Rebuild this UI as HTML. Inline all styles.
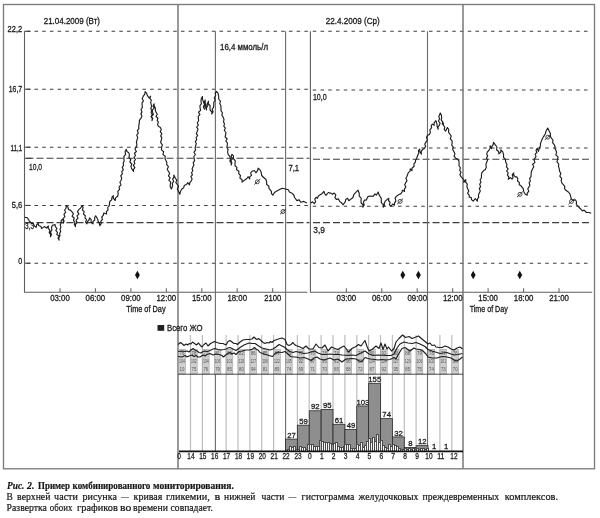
<!DOCTYPE html>
<html><head><meta charset="utf-8">
<style>
html,body{margin:0;padding:0;background:#fff;width:600px;height:518px;overflow:hidden;}
svg{position:absolute;left:0;top:0;will-change:transform;}
svg text{font-family:"Liberation Sans", sans-serif;}
.cap{position:absolute;will-change:transform;left:8px;font-family:"Liberation Serif", serif;font-size:10.2px;color:#1a1a1a;white-space:nowrap;line-height:11px;}
.j{width:550px;text-align:justify;text-align-last:justify;white-space:normal;}
</style></head><body>
<svg width="600" height="518" viewBox="0 0 600 518">
<rect x="3.5" y="4.5" width="591" height="464.3" fill="none" stroke="#7c7c7c" stroke-width="1.35"/>
<line x1="26.79" y1="31.3" x2="308" y2="31.3" stroke="#3c3c3c" stroke-width="1.05" stroke-dasharray="3.5 4.21"/>
<line x1="24.5" y1="31.3" x2="30.5" y2="31.3" stroke="#3c3c3c" stroke-width="1.05"/>
<line x1="26.79" y1="89.2" x2="308" y2="89.2" stroke="#3c3c3c" stroke-width="1.05" stroke-dasharray="3.5 4.21"/>
<line x1="24.5" y1="89.2" x2="30.5" y2="89.2" stroke="#3c3c3c" stroke-width="1.05"/>
<line x1="26.79" y1="147.2" x2="308" y2="147.2" stroke="#3c3c3c" stroke-width="1.05" stroke-dasharray="3.5 4.21"/>
<line x1="24.5" y1="147.2" x2="30.5" y2="147.2" stroke="#3c3c3c" stroke-width="1.05"/>
<line x1="26.79" y1="205.4" x2="308" y2="205.4" stroke="#3c3c3c" stroke-width="1.05" stroke-dasharray="3.5 4.21"/>
<line x1="24.5" y1="205.4" x2="30.5" y2="205.4" stroke="#3c3c3c" stroke-width="1.05"/>
<line x1="26.79" y1="263.2" x2="308" y2="263.2" stroke="#3c3c3c" stroke-width="1.05" stroke-dasharray="3.5 4.21"/>
<line x1="24.5" y1="263.2" x2="30.5" y2="263.2" stroke="#3c3c3c" stroke-width="1.05"/>
<line x1="312.75" y1="31.3" x2="591" y2="31.3" stroke="#3c3c3c" stroke-width="1.05" stroke-dasharray="3.5 4.25"/>
<line x1="312.75" y1="89.9" x2="591" y2="89.9" stroke="#3c3c3c" stroke-width="1.05" stroke-dasharray="3.5 4.25"/>
<line x1="312.75" y1="148.0" x2="591" y2="148.0" stroke="#3c3c3c" stroke-width="1.05" stroke-dasharray="3.5 4.25"/>
<line x1="312.75" y1="206.2" x2="591" y2="206.2" stroke="#3c3c3c" stroke-width="1.05" stroke-dasharray="3.5 4.25"/>
<line x1="312.75" y1="263.2" x2="591" y2="263.2" stroke="#3c3c3c" stroke-width="1.05" stroke-dasharray="3.5 4.25"/>
<line x1="26.5" y1="158.3" x2="309.5" y2="158.3" stroke="#3c3c3c" stroke-width="1.05" stroke-dasharray="7 3"/>
<line x1="24.5" y1="158.3" x2="31.5" y2="158.3" stroke="#3c3c3c" stroke-width="1.05"/>
<line x1="26.5" y1="222.6" x2="309.5" y2="222.6" stroke="#3c3c3c" stroke-width="1.05" stroke-dasharray="7 3"/>
<line x1="24.5" y1="222.6" x2="31.5" y2="222.6" stroke="#3c3c3c" stroke-width="1.05"/>
<line x1="313.04" y1="159.3" x2="590" y2="159.3" stroke="#3c3c3c" stroke-width="1.05" stroke-dasharray="7 2.96"/>
<line x1="313.04" y1="222.6" x2="590" y2="222.6" stroke="#3c3c3c" stroke-width="1.05" stroke-dasharray="7 2.96"/>
<polyline points="24.5,31.3 24.5,292.2 307.5,292.2" fill="none" stroke="#5e5e5e" stroke-width="1.1"/>
<polyline points="310.4,31.3 310.4,292.2 592.2,292.2" fill="none" stroke="#5e5e5e" stroke-width="1.1"/>
<line x1="60.0" y1="288.2" x2="60.0" y2="292.2" stroke="#5e5e5e" stroke-width="1"/>
<line x1="95.4" y1="288.2" x2="95.4" y2="292.2" stroke="#5e5e5e" stroke-width="1"/>
<line x1="130.9" y1="288.2" x2="130.9" y2="292.2" stroke="#5e5e5e" stroke-width="1"/>
<line x1="166.3" y1="288.2" x2="166.3" y2="292.2" stroke="#5e5e5e" stroke-width="1"/>
<line x1="201.8" y1="288.2" x2="201.8" y2="292.2" stroke="#5e5e5e" stroke-width="1"/>
<line x1="237.2" y1="288.2" x2="237.2" y2="292.2" stroke="#5e5e5e" stroke-width="1"/>
<line x1="272.7" y1="288.2" x2="272.7" y2="292.2" stroke="#5e5e5e" stroke-width="1"/>
<line x1="346.3" y1="288.2" x2="346.3" y2="292.2" stroke="#5e5e5e" stroke-width="1"/>
<line x1="381.8" y1="288.2" x2="381.8" y2="292.2" stroke="#5e5e5e" stroke-width="1"/>
<line x1="417.2" y1="288.2" x2="417.2" y2="292.2" stroke="#5e5e5e" stroke-width="1"/>
<line x1="452.7" y1="288.2" x2="452.7" y2="292.2" stroke="#5e5e5e" stroke-width="1"/>
<line x1="488.1" y1="288.2" x2="488.1" y2="292.2" stroke="#5e5e5e" stroke-width="1"/>
<line x1="523.6" y1="288.2" x2="523.6" y2="292.2" stroke="#5e5e5e" stroke-width="1"/>
<line x1="559.0" y1="288.2" x2="559.0" y2="292.2" stroke="#5e5e5e" stroke-width="1"/>
<line x1="178" y1="4.5" x2="178" y2="468.8" stroke="#777" stroke-width="1.5"/>
<line x1="463" y1="4.5" x2="463" y2="468.8" stroke="#777" stroke-width="1.5"/>
<line x1="215.4" y1="31.3" x2="215.4" y2="451" stroke="#6a6a6a" stroke-width="1.1"/>
<line x1="285.6" y1="31.3" x2="285.6" y2="451" stroke="#6a6a6a" stroke-width="1.1"/>
<line x1="427.5" y1="31.3" x2="427.5" y2="451" stroke="#6a6a6a" stroke-width="1.1"/>
<polyline points="24.7,217.2 27.4,217.8 29.5,221.2 31.5,223.2 33.5,223.9 34.4,226.0 36.2,227.3 36.6,225.0 38.2,223.2 38.6,225.5 41.0,226.5 41.6,228.6 44.3,226.6 46.4,228.0 48.4,226.0 48.2,228.3 49.9,230.2 49.2,232.6 50.6,234.5 50.4,236.8 51.5,234.6 50.4,232.1 51.9,230.0 51.5,227.5 52.4,225.3 55.1,224.6 55.3,226.6 56.9,228.3 55.9,230.6 57.5,232.3 56.8,234.5 59.1,236.0 58.0,238.3 59.2,240.1 58.7,237.9 60.0,235.8 59.6,233.5 60.7,231.5 60.0,229.2 60.9,227.1 60.3,224.8 61.3,222.7 61.2,220.5 62.6,219.2 63.5,221.1 63.2,223.2 64.1,221.1 63.1,218.7 64.9,216.7 63.9,214.3 65.6,212.4 64.6,210.0 66.2,208.0 66.0,205.7 67.9,206.9 68.5,209.5 70.7,210.4 72.0,211.8 73.4,213.7 72.1,216.2 74.2,218.0 73.5,220.4 74.9,222.3 74.4,224.6 75.4,226.6 75.5,224.4 77.0,222.5 76.1,220.2 77.9,218.3 77.0,215.9 78.9,214.1 77.5,211.6 78.8,209.7 80.7,207.9 82.2,205.7 83.1,207.6 82.4,210.0 84.3,211.6 83.4,214.0 85.3,215.7 85.0,217.9 86.5,219.7 85.6,222.1 86.9,223.9 87.4,221.7 89.0,220.0 89.6,217.8 91.2,219.6 91.1,222.3 93.0,223.9 92.9,221.6 94.7,220.0 94.6,217.7 95.7,215.8 97.7,219.2 98.1,221.4 99.4,223.4 99.8,225.6 101.2,223.7 100.7,221.3 102.4,219.5 101.8,217.0 103.4,215.2 103.7,213.0 106.6,214.0 106.4,211.7 108.1,209.9 107.7,207.5 109.3,205.6 109.5,203.4 109.9,201.2 111.8,199.7 111.9,197.3 113.3,195.6 113.4,198.4 115.3,200.5 115.5,197.9 117.7,196.2 118.2,193.7 117.8,191.3 119.6,189.3 119.1,186.8 121.0,184.9 119.9,182.3 121.1,180.2 121.7,178.1 120.7,175.8 122.4,173.9 121.8,171.7 123.3,169.7 122.3,167.4 123.6,165.4 123.1,163.2 124.1,161.2 124.0,159.0 123.9,156.4 125.6,154.3 125.1,151.6 126.3,149.3 126.9,151.5 128.9,152.9 129.4,155.1 128.9,157.5 130.8,159.5 129.9,162.0 131.8,164.0 130.9,166.4 131.7,168.6 133.6,171.5 133.4,169.5 134.9,167.6 133.3,165.4 134.8,163.5 134.1,161.4 135.5,159.5 134.0,157.4 135.5,155.5 134.4,153.3 136.4,151.5 135.0,149.3 135.9,147.4 136.9,144.9 136.4,142.2 137.1,139.7 137.7,137.5 136.7,135.1 138.3,133.1 137.4,130.7 138.9,128.6 138.7,126.3 139.3,122.9 139.4,120.3 141.0,118.2 141.9,116.1 140.9,113.9 142.0,111.9 141.0,109.7 142.3,107.6 142.2,105.5 142.0,103.1 143.4,100.9 142.2,98.4 143.3,96.2 144.8,94.2 145.1,91.6 146.7,93.4 147.4,95.6 149.1,98.0 150.6,96.2 149.8,98.3 151.3,100.2 150.7,102.3 151.1,104.3 151.7,106.3 150.7,108.4 151.8,110.4 151.1,112.5 152.2,114.5 151.1,116.6 152.3,118.5 152.0,120.6 152.7,118.6 151.4,116.4 153.4,114.5 152.6,112.4 152.3,110.1 154.1,108.2 153.1,105.8 154.1,103.8 154.2,106.0 155.4,108.0 155.3,110.3 156.1,112.4 157.3,114.2 156.0,116.5 158.0,118.2 157.1,120.4 158.4,122.2 157.5,124.4 158.4,126.3 160.4,127.5 161.3,129.5 160.2,131.7 161.8,133.7 160.7,135.9 161.8,137.9 161.3,140.0 160.6,142.5 162.4,144.9 161.6,147.4 161.5,149.9 163.7,151.7 162.9,154.4 165.2,156.2 165.0,158.7 166.8,162.2 166.7,164.6 168.4,166.7 167.2,169.3 168.5,171.5 169.7,173.5 168.5,175.8 170.2,177.8 168.8,180.2 170.7,182.1 170.3,184.3 170.2,186.8 171.4,189.0 172.6,185.5 172.3,183.3 173.7,181.4 172.6,179.1 173.9,177.1 173.8,175.0 175.5,178.5 176.8,180.2 175.8,182.6 177.3,184.3 178.5,186.5 177.3,189.1 178.4,191.3 179.9,194.3 180.4,191.5 181.9,189.0 183.7,187.7 184.3,185.5 186.6,184.3 187.8,182.6 189.5,184.9 189.8,182.6 191.3,180.8 192.1,178.9 190.9,176.7 192.4,174.8 191.5,172.7 192.8,170.8 192.1,168.7 193.0,166.8 193.9,164.9 193.2,162.7 194.6,160.8 194.2,158.7 193.8,156.5 195.4,154.5 194.0,152.2 195.6,150.1 195.1,147.9 195.6,145.8 196.3,143.8 195.3,141.6 196.7,139.7 196.1,137.5 197.6,135.6 196.3,133.4 197.2,131.4 198.0,129.3 196.7,127.1 198.3,125.0 197.3,122.8 198.6,120.8 198.4,118.6 198.2,116.4 199.9,114.6 198.5,112.2 200.6,110.4 200.1,108.2 199.9,105.8 201.4,103.6 201.0,101.2 201.2,98.8 202.4,96.6 202.6,99.6 203.6,102.4 204.5,104.6 203.4,107.1 204.5,109.3 203.9,106.9 205.7,104.8 204.2,102.3 205.3,100.1 205.1,102.6 206.3,105.0 205.6,107.5 206.5,109.9 206.5,107.6 207.9,105.6 207.5,103.2 208.5,101.2 208.3,103.7 210.1,105.7 210.0,108.2 210.1,110.3 211.9,111.8 211.7,114.0 213.1,111.9 212.2,109.2 213.6,107.1 213.8,104.7 213.8,102.3 215.2,100.2 214.3,97.7 215.7,95.5 215.2,93.1 216.4,91.4 218.2,93.7 218.7,96.6 218.7,99.0 220.4,101.1 219.8,103.6 220.9,105.8 221.0,108.2 221.0,110.6 222.4,112.7 221.9,115.3 223.3,117.4 224.0,119.5 223.5,121.8 224.5,123.9 223.8,126.2 225.3,128.2 224.3,130.5 226.0,132.5 225.6,134.8 225.1,137.0 227.2,138.7 225.9,141.0 227.4,142.9 227.3,145.0 226.9,147.4 228.1,149.6 227.6,152.0 228.1,154.3 229.8,156.3 230.4,158.9 229.9,161.1 231.3,163.0 231.2,165.1 231.8,163.0 231.0,160.7 232.4,158.7 231.2,156.4 232.0,154.3 233.5,155.8 233.3,158.5 235.3,160.8 235.0,163.5 235.0,165.7 236.9,167.4 236.6,169.7 238.9,171.3 238.7,173.7 240.5,175.5 239.9,178.0 242.1,179.7 242.0,182.1 245.1,179.8 246.9,178.5 248.2,176.7 249.7,179.0 249.7,176.9 251.5,175.4 250.6,173.0 252.0,171.3 254.4,170.5 255.9,172.8 257.5,170.7 258.2,168.2 260.3,170.1 261.3,172.8 261.7,175.5 263.6,177.5 265.8,179.3 266.7,182.1 266.6,184.5 268.8,186.0 269.0,188.3 271.4,191.4 271.5,193.6 272.9,195.2 274.1,193.0 276.0,191.4 279.1,189.8 282.2,188.3 285.3,189.0 288.4,189.8 289.4,191.9 291.5,192.9 293.7,194.7 294.6,197.5 296.9,200.6 299.2,199.9 300.7,202.2 303.8,201.4 306.9,203.0" fill="none" stroke="#1e1e1e" stroke-width="1.15" stroke-linejoin="round"/>
<polyline points="310.8,203.0 312.6,201.8 314.3,203.6 315.6,201.7 314.8,199.1 316.1,197.2 317.3,198.3 318.4,196.0 320.2,194.8 321.9,193.7 323.9,191.3 324.6,193.5 326.0,195.4 328.3,192.5 330.7,193.1 332.4,194.3 334.2,193.1 335.8,194.9 334.9,197.7 336.5,199.5 338.3,198.9 340.0,201.8 341.8,203.0 342.9,204.8 345.3,201.8 345.7,199.5 347.6,198.3 348.8,200.7 351.1,198.9 352.8,197.8 354.0,194.3 356.3,191.9 358.1,190.2 359.3,193.7 359.2,196.2 361.2,198.2 361.0,200.7 361.1,203.0 363.1,204.7 362.8,207.1 364.2,205.0 363.4,202.3 364.5,200.1 366.3,200.1 368.0,196.6 370.3,196.0 373.1,196.4 375.0,193.9 376.3,195.2 378.2,192.0 378.8,194.3 380.0,196.4 381.2,198.1 381.3,200.2 381.3,202.7 383.3,204.6 383.2,207.1 384.4,205.4 384.2,203.2 385.1,201.4 386.9,199.6 388.8,198.3 388.5,200.5 390.1,202.3 389.4,204.6 390.7,206.5 392.6,204.0 394.5,205.2 394.6,202.9 395.9,200.9 395.1,198.4 396.3,196.4 398.9,194.5 400.7,193.9 402.0,192.2 402.6,190.2 404.5,191.4 404.4,189.1 405.8,187.1 404.7,184.7 405.8,182.6 407.0,180.7 405.9,178.3 407.0,176.3 408.3,172.6 410.1,171.1 410.2,168.8 412.0,170.7 412.0,168.2 414.1,166.3 413.9,163.8 415.2,162.5 415.6,160.3 416.7,158.3 417.9,154.8 418.9,153.0 418.4,150.8 419.6,149.0 420.0,151.8 421.4,154.2 421.2,151.7 422.5,149.6 424.3,148.5 425.6,146.5 424.8,144.1 426.0,142.1 427.4,140.0 426.5,137.3 427.7,135.1 429.5,134.5 430.4,132.3 429.8,129.8 431.6,127.8 431.2,125.3 432.4,124.1 434.1,125.3 434.2,122.6 435.9,120.6 437.0,124.1 437.2,126.8 438.2,129.3 437.9,127.1 439.3,125.3 440.1,123.1 438.4,121.0 439.6,118.7 438.8,116.6 440.3,113.1 441.4,115.3 441.7,117.7 441.2,119.9 442.7,121.9 442.2,124.1 443.4,123.0 443.3,125.2 444.8,127.0 444.2,129.3 445.7,131.1 447.4,127.6 448.8,129.5 448.5,132.1 449.8,134.0 451.2,136.1 450.3,138.8 452.1,140.8 452.1,143.2 451.8,145.4 453.3,147.2 452.7,149.5 453.8,151.4 454.9,153.6 454.1,156.2 455.6,158.3 457.3,158.9 459.0,160.8 459.1,163.4 459.0,165.7 460.4,167.8 459.7,170.2 461.0,172.3 459.9,174.8 461.1,176.9 462.4,178.2 463.9,180.0 463.8,182.3 465.8,179.6 465.7,182.1 467.3,184.2 466.9,186.8 467.8,189.1 468.8,191.0 467.6,193.3 469.2,195.1 469.2,197.2 471.2,197.2 471.5,199.6 473.2,201.2 475.3,198.5 477.3,201.2 477.5,199.1 478.7,197.2 478.4,195.0 479.3,193.1 480.3,191.0 479.3,188.6 480.6,186.6 479.7,184.2 481.0,182.1 480.1,179.8 481.5,177.7 481.4,175.5 481.8,172.9 483.4,170.8 485.4,169.5 486.3,167.1 485.9,164.4 486.8,162.0 487.6,160.0 486.5,157.9 487.7,156.0 486.7,153.9 487.4,151.9 488.8,150.5 490.1,148.3 490.1,145.8 491.5,148.5 491.8,146.3 493.2,144.6 493.5,142.4 495.5,145.1 497.0,147.0 496.5,149.8 498.6,151.5 498.9,153.9 500.7,152.3 500.9,149.9 502.8,151.9 503.6,154.6 503.5,157.3 505.4,159.4 505.7,162.0 507.0,164.7 506.4,166.8 508.2,168.8 506.6,171.0 508.2,172.9 507.4,175.1 508.9,177.1 508.2,179.2 510.5,177.7 512.1,179.2 513.1,177.2 512.2,174.8 513.7,172.9 513.7,175.2 515.3,176.9 516.9,176.9 517.8,178.8 517.6,181.0 519.4,182.6 519.2,184.8 520.8,185.6 523.2,188.7 523.8,191.7 525.3,194.3 527.2,195.1 527.2,193.1 528.8,191.3 527.8,189.1 528.7,187.2 529.9,185.2 529.1,182.9 530.4,181.0 529.6,178.6 531.0,176.7 531.1,174.5 531.4,171.5 532.6,168.7 533.8,166.8 532.6,164.3 534.9,162.6 534.1,160.2 534.9,158.2 536.0,156.4 535.1,154.1 536.9,152.5 536.0,150.2 537.2,148.4 538.4,151.3 539.5,147.8 540.5,145.8 540.4,143.4 541.3,141.4 542.4,138.5 544.2,135.6 545.4,133.7 545.9,131.6 547.7,128.1 549.4,131.6 550.5,133.8 550.3,136.4 551.7,138.5 553.0,140.2 552.6,142.6 554.0,144.3 555.0,146.1 554.8,148.3 555.8,150.1 556.6,152.3 555.8,154.9 558.0,156.9 557.5,159.4 557.0,161.9 558.7,164.0 558.5,166.4 559.2,168.7 559.6,171.3 560.9,173.5 559.8,176.1 561.6,178.3 561.2,180.8 561.9,183.1 563.5,184.8 564.8,186.4 564.5,188.7 565.9,190.3 568.3,191.9 570.0,194.0 570.7,196.6 571.3,198.9 573.0,200.6 575.4,199.8 576.5,201.8 576.3,204.3 577.8,206.1 580.2,208.5 582.5,210.9 584.1,210.1 586.5,212.5 588.9,212.5 591.2,213.3" fill="none" stroke="#1e1e1e" stroke-width="1.15" stroke-linejoin="round"/>
<polygon points="137.4,270.8 139.8,275.0 137.4,279.2 135.0,275.0" fill="#111"/>
<polygon points="402.8,270.8 405.2,275.0 402.8,279.2 400.40000000000003,275.0" fill="#111"/>
<polygon points="418.4,270.8 420.79999999999995,275.0 418.4,279.2 416.0,275.0" fill="#111"/>
<polygon points="473.2,270.8 475.59999999999997,275.0 473.2,279.2 470.8,275.0" fill="#111"/>
<polygon points="519.8,270.8 522.1999999999999,275.0 519.8,279.2 517.4,275.0" fill="#111"/>
<circle cx="257.3" cy="181.8" r="2.0" fill="none" stroke="#2a2a2a" stroke-width="0.85"/><line x1="254.3" y1="184.60000000000002" x2="260.3" y2="179.0" stroke="#2a2a2a" stroke-width="0.85"/>
<circle cx="283" cy="211.5" r="2.0" fill="none" stroke="#2a2a2a" stroke-width="0.85"/><line x1="280" y1="214.3" x2="286" y2="208.7" stroke="#2a2a2a" stroke-width="0.85"/>
<circle cx="400.1" cy="201.4" r="2.0" fill="none" stroke="#2a2a2a" stroke-width="0.85"/><line x1="397.1" y1="204.20000000000002" x2="403.1" y2="198.6" stroke="#2a2a2a" stroke-width="0.85"/>
<circle cx="520" cy="194.3" r="2.0" fill="none" stroke="#2a2a2a" stroke-width="0.85"/><line x1="517" y1="197.10000000000002" x2="523" y2="191.5" stroke="#2a2a2a" stroke-width="0.85"/>
<circle cx="571.5" cy="201.4" r="2.0" fill="none" stroke="#2a2a2a" stroke-width="0.85"/><line x1="568.5" y1="204.20000000000002" x2="574.5" y2="198.6" stroke="#2a2a2a" stroke-width="0.85"/>
<circle cx="547.8" cy="137.2" r="2.0" fill="none" stroke="#2a2a2a" stroke-width="0.85"/><line x1="544.8" y1="140.0" x2="550.8" y2="134.39999999999998" stroke="#2a2a2a" stroke-width="0.85"/>
<text x="43.7" y="24.4" font-size="8.6" text-anchor="start" fill="#181818" stroke="#181818" stroke-width="0.28" font-weight="normal" font-style="normal" textLength="56.3" lengthAdjust="spacingAndGlyphs">21.04.2009 (Вт)</text>
<text x="325.8" y="24.4" font-size="8.6" text-anchor="start" fill="#181818" stroke="#181818" stroke-width="0.28" font-weight="normal" font-style="normal" textLength="53.9" lengthAdjust="spacingAndGlyphs">22.4.2009 (Ср)</text>
<text x="220" y="50.0" font-size="8.3" text-anchor="start" fill="#181818" stroke="#181818" stroke-width="0.28" font-weight="normal" font-style="normal" textLength="48" lengthAdjust="spacingAndGlyphs">16,4 ммоль/л</text>
<text x="7.5" y="32.4" font-size="8.6" text-anchor="start" fill="#181818" stroke="#181818" stroke-width="0.28" font-weight="normal" font-style="normal" textLength="14.7" lengthAdjust="spacingAndGlyphs">22,2</text>
<text x="8.799999999999999" y="92.4" font-size="8.6" text-anchor="start" fill="#181818" stroke="#181818" stroke-width="0.28" font-weight="normal" font-style="normal" textLength="13.4" lengthAdjust="spacingAndGlyphs">16,7</text>
<text x="10.6" y="150.5" font-size="8.6" text-anchor="start" fill="#181818" stroke="#181818" stroke-width="0.28" font-weight="normal" font-style="normal" textLength="11.6" lengthAdjust="spacingAndGlyphs">11,1</text>
<text x="11.799999999999999" y="207.5" font-size="8.6" text-anchor="start" fill="#181818" stroke="#181818" stroke-width="0.28" font-weight="normal" font-style="normal" textLength="10.4" lengthAdjust="spacingAndGlyphs">5,6</text>
<text x="18.2" y="263.9" font-size="8.6" text-anchor="start" fill="#181818" stroke="#181818" stroke-width="0.28" font-weight="normal" font-style="normal" textLength="4.0" lengthAdjust="spacingAndGlyphs">0</text>
<text x="29" y="170.3" font-size="8.9" text-anchor="start" fill="#181818" stroke="#181818" stroke-width="0.28" font-weight="normal" font-style="normal" textLength="13.0" lengthAdjust="spacingAndGlyphs">10,0</text>
<text x="25.1" y="228.7" font-size="8.9" text-anchor="start" fill="#181818" stroke="#181818" stroke-width="0.28" font-weight="normal" font-style="normal" textLength="9.1" lengthAdjust="spacingAndGlyphs">3,3</text>
<text x="288.4" y="170.6" font-size="8.9" text-anchor="start" fill="#181818" stroke="#181818" stroke-width="0.28" font-weight="normal" font-style="normal" textLength="10.8" lengthAdjust="spacingAndGlyphs">7,1</text>
<text x="312.9" y="100.2" font-size="8.9" text-anchor="start" fill="#181818" stroke="#181818" stroke-width="0.28" font-weight="normal" font-style="normal" textLength="13.9" lengthAdjust="spacingAndGlyphs">10,0</text>
<text x="313.3" y="232.7" font-size="8.9" text-anchor="start" fill="#181818" stroke="#181818" stroke-width="0.28" font-weight="normal" font-style="normal" textLength="11.6" lengthAdjust="spacingAndGlyphs">3,9</text>
<text x="59.95" y="301.0" font-size="8.3" text-anchor="middle" fill="#181818" stroke="#181818" stroke-width="0.28" font-weight="normal" font-style="normal" textLength="19.6" lengthAdjust="spacingAndGlyphs">03:00</text>
<text x="95.4" y="301.0" font-size="8.3" text-anchor="middle" fill="#181818" stroke="#181818" stroke-width="0.28" font-weight="normal" font-style="normal" textLength="19.6" lengthAdjust="spacingAndGlyphs">06:00</text>
<text x="130.85000000000002" y="301.0" font-size="8.3" text-anchor="middle" fill="#181818" stroke="#181818" stroke-width="0.28" font-weight="normal" font-style="normal" textLength="19.6" lengthAdjust="spacingAndGlyphs">09:00</text>
<text x="166.3" y="301.0" font-size="8.3" text-anchor="middle" fill="#181818" stroke="#181818" stroke-width="0.28" font-weight="normal" font-style="normal" textLength="19.6" lengthAdjust="spacingAndGlyphs">12:00</text>
<text x="201.75" y="301.0" font-size="8.3" text-anchor="middle" fill="#181818" stroke="#181818" stroke-width="0.28" font-weight="normal" font-style="normal" textLength="19.6" lengthAdjust="spacingAndGlyphs">15:00</text>
<text x="237.20000000000002" y="301.0" font-size="8.3" text-anchor="middle" fill="#181818" stroke="#181818" stroke-width="0.28" font-weight="normal" font-style="normal" textLength="19.6" lengthAdjust="spacingAndGlyphs">18:00</text>
<text x="272.65000000000003" y="301.0" font-size="8.3" text-anchor="middle" fill="#181818" stroke="#181818" stroke-width="0.28" font-weight="normal" font-style="normal" textLength="17.0" lengthAdjust="spacingAndGlyphs">2100</text>
<text x="346.34999999999997" y="301.0" font-size="8.3" text-anchor="middle" fill="#181818" stroke="#181818" stroke-width="0.28" font-weight="normal" font-style="normal" textLength="19.6" lengthAdjust="spacingAndGlyphs">03:00</text>
<text x="381.79999999999995" y="301.0" font-size="8.3" text-anchor="middle" fill="#181818" stroke="#181818" stroke-width="0.28" font-weight="normal" font-style="normal" textLength="19.6" lengthAdjust="spacingAndGlyphs">06:00</text>
<text x="417.25" y="301.0" font-size="8.3" text-anchor="middle" fill="#181818" stroke="#181818" stroke-width="0.28" font-weight="normal" font-style="normal" textLength="19.6" lengthAdjust="spacingAndGlyphs">09:00</text>
<text x="452.7" y="301.0" font-size="8.3" text-anchor="middle" fill="#181818" stroke="#181818" stroke-width="0.28" font-weight="normal" font-style="normal" textLength="19.6" lengthAdjust="spacingAndGlyphs">12:00</text>
<text x="488.15" y="301.0" font-size="8.3" text-anchor="middle" fill="#181818" stroke="#181818" stroke-width="0.28" font-weight="normal" font-style="normal" textLength="19.6" lengthAdjust="spacingAndGlyphs">15:00</text>
<text x="523.6" y="301.0" font-size="8.3" text-anchor="middle" fill="#181818" stroke="#181818" stroke-width="0.28" font-weight="normal" font-style="normal" textLength="19.6" lengthAdjust="spacingAndGlyphs">18:00</text>
<text x="559.05" y="301.0" font-size="8.3" text-anchor="middle" fill="#181818" stroke="#181818" stroke-width="0.28" font-weight="normal" font-style="normal" textLength="19.6" lengthAdjust="spacingAndGlyphs">21:00</text>
<text x="126.3" y="311.5" font-size="8.4" text-anchor="start" fill="#181818" stroke="#181818" stroke-width="0.28" font-weight="normal" font-style="normal" textLength="39.3" lengthAdjust="spacingAndGlyphs">Time of Day</text>
<text x="469.7" y="311.5" font-size="8.4" text-anchor="start" fill="#181818" stroke="#181818" stroke-width="0.28" font-weight="normal" font-style="normal" textLength="38.1" lengthAdjust="spacingAndGlyphs">Time of Day</text>
<rect x="157.5" y="325" width="6.7" height="5.8" fill="#222"/>
<text x="167" y="330.7" font-size="8.8" text-anchor="start" fill="#181818" stroke="#181818" stroke-width="0.28" font-weight="normal" font-style="normal" textLength="35.5" lengthAdjust="spacingAndGlyphs">Всего ЖО</text>
<line x1="190.5" y1="335" x2="190.5" y2="450.9" stroke="#bdbdbd" stroke-width="1.2"/>
<line x1="202.4" y1="335" x2="202.4" y2="450.9" stroke="#bdbdbd" stroke-width="1.2"/>
<line x1="226.1" y1="335" x2="226.1" y2="450.9" stroke="#bdbdbd" stroke-width="1.2"/>
<line x1="238.0" y1="335" x2="238.0" y2="450.9" stroke="#bdbdbd" stroke-width="1.2"/>
<line x1="249.9" y1="335" x2="249.9" y2="450.9" stroke="#bdbdbd" stroke-width="1.2"/>
<line x1="261.7" y1="335" x2="261.7" y2="450.9" stroke="#bdbdbd" stroke-width="1.2"/>
<line x1="273.6" y1="335" x2="273.6" y2="450.9" stroke="#bdbdbd" stroke-width="1.2"/>
<line x1="297.4" y1="335" x2="297.4" y2="450.9" stroke="#bdbdbd" stroke-width="1.2"/>
<line x1="309.2" y1="335" x2="309.2" y2="450.9" stroke="#bdbdbd" stroke-width="1.2"/>
<line x1="321.1" y1="335" x2="321.1" y2="450.9" stroke="#bdbdbd" stroke-width="1.2"/>
<line x1="333.0" y1="335" x2="333.0" y2="450.9" stroke="#bdbdbd" stroke-width="1.2"/>
<line x1="344.9" y1="335" x2="344.9" y2="450.9" stroke="#bdbdbd" stroke-width="1.2"/>
<line x1="356.8" y1="335" x2="356.8" y2="450.9" stroke="#bdbdbd" stroke-width="1.2"/>
<line x1="368.6" y1="335" x2="368.6" y2="450.9" stroke="#bdbdbd" stroke-width="1.2"/>
<line x1="380.5" y1="335" x2="380.5" y2="450.9" stroke="#bdbdbd" stroke-width="1.2"/>
<line x1="392.4" y1="335" x2="392.4" y2="450.9" stroke="#bdbdbd" stroke-width="1.2"/>
<line x1="404.3" y1="335" x2="404.3" y2="450.9" stroke="#bdbdbd" stroke-width="1.2"/>
<line x1="416.1" y1="335" x2="416.1" y2="450.9" stroke="#bdbdbd" stroke-width="1.2"/>
<line x1="439.9" y1="335" x2="439.9" y2="450.9" stroke="#bdbdbd" stroke-width="1.2"/>
<line x1="451.8" y1="335" x2="451.8" y2="450.9" stroke="#bdbdbd" stroke-width="1.2"/>
<rect x="178.7" y="349.5" width="6.6" height="24.6" fill="#cfcfcf" stroke="#a0a0a0" stroke-width="0.6"/>
<text x="182.0" y="355.0" font-size="4.8" text-anchor="middle" fill="#555" textLength="4.8" lengthAdjust="spacingAndGlyphs">76</text>
<text x="182.0" y="363.0" font-size="4.8" text-anchor="middle" fill="#555" textLength="5.8" lengthAdjust="spacingAndGlyphs">104</text>
<text x="182.0" y="371.0" font-size="4.8" text-anchor="middle" fill="#555" textLength="4.8" lengthAdjust="spacingAndGlyphs">10</text>
<rect x="190.6" y="349.5" width="6.6" height="24.6" fill="#cfcfcf" stroke="#a0a0a0" stroke-width="0.6"/>
<text x="193.9" y="355.0" font-size="4.8" text-anchor="middle" fill="#555" textLength="4.8" lengthAdjust="spacingAndGlyphs">78</text>
<text x="193.9" y="363.0" font-size="4.8" text-anchor="middle" fill="#555" textLength="5.8" lengthAdjust="spacingAndGlyphs">102</text>
<text x="193.9" y="371.0" font-size="4.8" text-anchor="middle" fill="#555" textLength="4.8" lengthAdjust="spacingAndGlyphs">75</text>
<rect x="202.5" y="349.5" width="6.6" height="24.6" fill="#cfcfcf" stroke="#a0a0a0" stroke-width="0.6"/>
<text x="205.8" y="355.0" font-size="4.8" text-anchor="middle" fill="#555" textLength="4.8" lengthAdjust="spacingAndGlyphs">77</text>
<text x="205.8" y="363.0" font-size="4.8" text-anchor="middle" fill="#555" textLength="5.8" lengthAdjust="spacingAndGlyphs">104</text>
<text x="205.8" y="371.0" font-size="4.8" text-anchor="middle" fill="#555" textLength="4.8" lengthAdjust="spacingAndGlyphs">76</text>
<rect x="214.3" y="349.5" width="6.6" height="24.6" fill="#cfcfcf" stroke="#a0a0a0" stroke-width="0.6"/>
<text x="217.6" y="355.0" font-size="4.8" text-anchor="middle" fill="#555" textLength="4.8" lengthAdjust="spacingAndGlyphs">81</text>
<text x="217.6" y="363.0" font-size="4.8" text-anchor="middle" fill="#555" textLength="5.8" lengthAdjust="spacingAndGlyphs">106</text>
<text x="217.6" y="371.0" font-size="4.8" text-anchor="middle" fill="#555" textLength="4.8" lengthAdjust="spacingAndGlyphs">79</text>
<rect x="226.2" y="349.5" width="6.6" height="24.6" fill="#cfcfcf" stroke="#a0a0a0" stroke-width="0.6"/>
<text x="229.5" y="355.0" font-size="4.8" text-anchor="middle" fill="#555" textLength="4.8" lengthAdjust="spacingAndGlyphs">80</text>
<text x="229.5" y="363.0" font-size="4.8" text-anchor="middle" fill="#555" textLength="5.8" lengthAdjust="spacingAndGlyphs">101</text>
<text x="229.5" y="371.0" font-size="4.8" text-anchor="middle" fill="#555" textLength="4.8" lengthAdjust="spacingAndGlyphs">85</text>
<rect x="238.1" y="349.5" width="6.6" height="24.6" fill="#cfcfcf" stroke="#a0a0a0" stroke-width="0.6"/>
<text x="241.4" y="355.0" font-size="4.8" text-anchor="middle" fill="#555" textLength="4.8" lengthAdjust="spacingAndGlyphs">82</text>
<text x="241.4" y="363.0" font-size="4.8" text-anchor="middle" fill="#555" textLength="5.8" lengthAdjust="spacingAndGlyphs">120</text>
<text x="241.4" y="371.0" font-size="4.8" text-anchor="middle" fill="#555" textLength="4.8" lengthAdjust="spacingAndGlyphs">80</text>
<rect x="250.0" y="349.5" width="6.6" height="24.6" fill="#cfcfcf" stroke="#a0a0a0" stroke-width="0.6"/>
<text x="253.3" y="355.0" font-size="4.8" text-anchor="middle" fill="#555" textLength="4.8" lengthAdjust="spacingAndGlyphs">86</text>
<text x="253.3" y="363.0" font-size="4.8" text-anchor="middle" fill="#555" textLength="5.8" lengthAdjust="spacingAndGlyphs">127</text>
<text x="253.3" y="371.0" font-size="4.8" text-anchor="middle" fill="#555" textLength="4.8" lengthAdjust="spacingAndGlyphs">94</text>
<rect x="261.8" y="349.5" width="6.6" height="24.6" fill="#cfcfcf" stroke="#a0a0a0" stroke-width="0.6"/>
<text x="265.1" y="355.0" font-size="4.8" text-anchor="middle" fill="#555" textLength="4.8" lengthAdjust="spacingAndGlyphs">85</text>
<text x="265.1" y="363.0" font-size="4.8" text-anchor="middle" fill="#555" textLength="5.8" lengthAdjust="spacingAndGlyphs">106</text>
<text x="265.1" y="371.0" font-size="4.8" text-anchor="middle" fill="#555" textLength="4.8" lengthAdjust="spacingAndGlyphs">81</text>
<rect x="273.7" y="349.5" width="6.6" height="24.6" fill="#cfcfcf" stroke="#a0a0a0" stroke-width="0.6"/>
<text x="277.0" y="355.0" font-size="4.8" text-anchor="middle" fill="#555" textLength="4.8" lengthAdjust="spacingAndGlyphs">84</text>
<text x="277.0" y="363.0" font-size="4.8" text-anchor="middle" fill="#555" textLength="5.8" lengthAdjust="spacingAndGlyphs">122</text>
<text x="277.0" y="371.0" font-size="4.8" text-anchor="middle" fill="#555" textLength="4.8" lengthAdjust="spacingAndGlyphs">89</text>
<rect x="285.6" y="349.5" width="6.6" height="24.6" fill="#cfcfcf" stroke="#a0a0a0" stroke-width="0.6"/>
<text x="288.9" y="355.0" font-size="4.8" text-anchor="middle" fill="#555" textLength="4.8" lengthAdjust="spacingAndGlyphs">79</text>
<text x="288.9" y="363.0" font-size="4.8" text-anchor="middle" fill="#555" textLength="5.8" lengthAdjust="spacingAndGlyphs">105</text>
<text x="288.9" y="371.0" font-size="4.8" text-anchor="middle" fill="#555" textLength="4.8" lengthAdjust="spacingAndGlyphs">74</text>
<rect x="297.5" y="349.5" width="6.6" height="24.6" fill="#cfcfcf" stroke="#a0a0a0" stroke-width="0.6"/>
<text x="300.8" y="355.0" font-size="4.8" text-anchor="middle" fill="#555" textLength="4.8" lengthAdjust="spacingAndGlyphs">77</text>
<text x="300.8" y="363.0" font-size="4.8" text-anchor="middle" fill="#555" textLength="4.8" lengthAdjust="spacingAndGlyphs">92</text>
<text x="300.8" y="371.0" font-size="4.8" text-anchor="middle" fill="#555" textLength="4.8" lengthAdjust="spacingAndGlyphs">69</text>
<rect x="309.3" y="349.5" width="6.6" height="24.6" fill="#cfcfcf" stroke="#a0a0a0" stroke-width="0.6"/>
<text x="312.6" y="355.0" font-size="4.8" text-anchor="middle" fill="#555" textLength="4.8" lengthAdjust="spacingAndGlyphs">76</text>
<text x="312.6" y="363.0" font-size="4.8" text-anchor="middle" fill="#555" textLength="4.8" lengthAdjust="spacingAndGlyphs">97</text>
<text x="312.6" y="371.0" font-size="4.8" text-anchor="middle" fill="#555" textLength="4.8" lengthAdjust="spacingAndGlyphs">71</text>
<rect x="321.2" y="349.5" width="6.6" height="24.6" fill="#cfcfcf" stroke="#a0a0a0" stroke-width="0.6"/>
<text x="324.5" y="355.0" font-size="4.8" text-anchor="middle" fill="#555" textLength="4.8" lengthAdjust="spacingAndGlyphs">78</text>
<text x="324.5" y="363.0" font-size="4.8" text-anchor="middle" fill="#555" textLength="4.8" lengthAdjust="spacingAndGlyphs">95</text>
<text x="324.5" y="371.0" font-size="4.8" text-anchor="middle" fill="#555" textLength="4.8" lengthAdjust="spacingAndGlyphs">70</text>
<rect x="333.1" y="349.5" width="6.6" height="24.6" fill="#cfcfcf" stroke="#a0a0a0" stroke-width="0.6"/>
<text x="336.4" y="355.0" font-size="4.8" text-anchor="middle" fill="#555" textLength="4.8" lengthAdjust="spacingAndGlyphs">74</text>
<text x="336.4" y="363.0" font-size="4.8" text-anchor="middle" fill="#555" textLength="4.8" lengthAdjust="spacingAndGlyphs">92</text>
<text x="336.4" y="371.0" font-size="4.8" text-anchor="middle" fill="#555" textLength="4.8" lengthAdjust="spacingAndGlyphs">65</text>
<rect x="345.0" y="349.5" width="6.6" height="24.6" fill="#cfcfcf" stroke="#a0a0a0" stroke-width="0.6"/>
<text x="348.3" y="355.0" font-size="4.8" text-anchor="middle" fill="#555" textLength="4.8" lengthAdjust="spacingAndGlyphs">75</text>
<text x="348.3" y="363.0" font-size="4.8" text-anchor="middle" fill="#555" textLength="4.8" lengthAdjust="spacingAndGlyphs">96</text>
<text x="348.3" y="371.0" font-size="4.8" text-anchor="middle" fill="#555" textLength="4.8" lengthAdjust="spacingAndGlyphs">68</text>
<rect x="356.9" y="349.5" width="6.6" height="24.6" fill="#cfcfcf" stroke="#a0a0a0" stroke-width="0.6"/>
<text x="360.2" y="355.0" font-size="4.8" text-anchor="middle" fill="#555" textLength="4.8" lengthAdjust="spacingAndGlyphs">77</text>
<text x="360.2" y="363.0" font-size="4.8" text-anchor="middle" fill="#555" textLength="4.8" lengthAdjust="spacingAndGlyphs">98</text>
<text x="360.2" y="371.0" font-size="4.8" text-anchor="middle" fill="#555" textLength="4.8" lengthAdjust="spacingAndGlyphs">72</text>
<rect x="368.7" y="349.5" width="6.6" height="24.6" fill="#cfcfcf" stroke="#a0a0a0" stroke-width="0.6"/>
<text x="372.0" y="355.0" font-size="4.8" text-anchor="middle" fill="#555" textLength="4.8" lengthAdjust="spacingAndGlyphs">80</text>
<text x="372.0" y="363.0" font-size="4.8" text-anchor="middle" fill="#555" textLength="5.8" lengthAdjust="spacingAndGlyphs">104</text>
<text x="372.0" y="371.0" font-size="4.8" text-anchor="middle" fill="#555" textLength="4.8" lengthAdjust="spacingAndGlyphs">87</text>
<rect x="380.6" y="349.5" width="6.6" height="24.6" fill="#cfcfcf" stroke="#a0a0a0" stroke-width="0.6"/>
<text x="383.9" y="355.0" font-size="4.8" text-anchor="middle" fill="#555" textLength="4.8" lengthAdjust="spacingAndGlyphs">92</text>
<text x="383.9" y="363.0" font-size="4.8" text-anchor="middle" fill="#555" textLength="5.8" lengthAdjust="spacingAndGlyphs">124</text>
<text x="383.9" y="371.0" font-size="4.8" text-anchor="middle" fill="#555" textLength="4.8" lengthAdjust="spacingAndGlyphs">92</text>
<rect x="392.5" y="349.5" width="6.6" height="24.6" fill="#cfcfcf" stroke="#a0a0a0" stroke-width="0.6"/>
<text x="395.8" y="355.0" font-size="4.8" text-anchor="middle" fill="#555" textLength="4.8" lengthAdjust="spacingAndGlyphs">90</text>
<text x="395.8" y="363.0" font-size="4.8" text-anchor="middle" fill="#555" textLength="5.8" lengthAdjust="spacingAndGlyphs">127</text>
<text x="395.8" y="371.0" font-size="4.8" text-anchor="middle" fill="#555" textLength="4.8" lengthAdjust="spacingAndGlyphs">95</text>
<rect x="404.4" y="349.5" width="6.6" height="24.6" fill="#cfcfcf" stroke="#a0a0a0" stroke-width="0.6"/>
<text x="407.7" y="355.0" font-size="4.8" text-anchor="middle" fill="#555" textLength="4.8" lengthAdjust="spacingAndGlyphs">88</text>
<text x="407.7" y="363.0" font-size="4.8" text-anchor="middle" fill="#555" textLength="5.8" lengthAdjust="spacingAndGlyphs">120</text>
<text x="407.7" y="371.0" font-size="4.8" text-anchor="middle" fill="#555" textLength="4.8" lengthAdjust="spacingAndGlyphs">85</text>
<rect x="416.2" y="349.5" width="6.6" height="24.6" fill="#cfcfcf" stroke="#a0a0a0" stroke-width="0.6"/>
<text x="419.5" y="355.0" font-size="4.8" text-anchor="middle" fill="#555" textLength="4.8" lengthAdjust="spacingAndGlyphs">79</text>
<text x="419.5" y="363.0" font-size="4.8" text-anchor="middle" fill="#555" textLength="5.8" lengthAdjust="spacingAndGlyphs">106</text>
<text x="419.5" y="371.0" font-size="4.8" text-anchor="middle" fill="#555" textLength="4.8" lengthAdjust="spacingAndGlyphs">75</text>
<rect x="428.1" y="349.5" width="6.6" height="24.6" fill="#cfcfcf" stroke="#a0a0a0" stroke-width="0.6"/>
<text x="431.4" y="355.0" font-size="4.8" text-anchor="middle" fill="#555" textLength="4.8" lengthAdjust="spacingAndGlyphs">78</text>
<text x="431.4" y="363.0" font-size="4.8" text-anchor="middle" fill="#555" textLength="5.8" lengthAdjust="spacingAndGlyphs">102</text>
<text x="431.4" y="371.0" font-size="4.8" text-anchor="middle" fill="#555" textLength="4.8" lengthAdjust="spacingAndGlyphs">74</text>
<rect x="440.0" y="349.5" width="6.6" height="24.6" fill="#cfcfcf" stroke="#a0a0a0" stroke-width="0.6"/>
<text x="443.3" y="355.0" font-size="4.8" text-anchor="middle" fill="#555" textLength="4.8" lengthAdjust="spacingAndGlyphs">77</text>
<text x="443.3" y="363.0" font-size="4.8" text-anchor="middle" fill="#555" textLength="5.8" lengthAdjust="spacingAndGlyphs">101</text>
<text x="443.3" y="371.0" font-size="4.8" text-anchor="middle" fill="#555" textLength="4.8" lengthAdjust="spacingAndGlyphs">73</text>
<rect x="451.9" y="349.5" width="6.6" height="24.6" fill="#cfcfcf" stroke="#a0a0a0" stroke-width="0.6"/>
<text x="455.2" y="355.0" font-size="4.8" text-anchor="middle" fill="#555" textLength="4.8" lengthAdjust="spacingAndGlyphs">76</text>
<text x="455.2" y="363.0" font-size="4.8" text-anchor="middle" fill="#555" textLength="4.8" lengthAdjust="spacingAndGlyphs">98</text>
<text x="455.2" y="371.0" font-size="4.8" text-anchor="middle" fill="#555" textLength="4.8" lengthAdjust="spacingAndGlyphs">70</text>
<line x1="178" y1="374.2" x2="463" y2="374.2" stroke="#333" stroke-width="0.9"/>
<polyline points="178.0,344.5 180.5,342.5 182.5,344.0 184.0,345.5 186.0,344.0 187.5,345.0 189.5,343.5 191.0,344.0 192.5,342.0 194.5,343.5 196.5,345.0 198.5,343.0 200.0,345.0 202.0,347.0 204.0,344.5 206.0,343.0 208.0,346.0 210.5,343.5 214.5,341.5 217.0,342.5 220.0,343.5 223.0,343.5 226.0,345.0 228.0,341.5 230.0,340.5 232.0,342.0 234.0,343.5 236.0,343.5 237.5,344.5 240.0,342.0 243.0,340.0 246.0,339.5 249.0,339.5 252.0,339.0 254.0,337.0 256.0,339.0 257.0,339.5 258.5,338.5 261.0,340.5 263.0,342.5 265.0,343.5 267.0,342.5 269.0,343.0 270.5,341.5 272.0,342.5 274.0,340.5 277.0,339.5 280.0,338.5 282.0,338.0 285.0,339.5 287.0,344.5 289.0,345.5 291.0,344.5 293.0,342.5 294.5,344.5 296.0,345.5 300.0,347.0 303.0,348.5 306.0,346.0 309.0,349.0 313.0,349.0 316.0,344.0 319.0,347.5 322.0,348.0 325.0,345.0 328.0,351.0 331.5,347.0 335.0,348.5 338.0,349.5 341.0,347.5 344.0,346.0 346.0,348.5 348.5,352.0 352.0,348.5 356.0,346.5 358.5,344.5 361.0,346.0 365.0,340.5 367.0,346.5 369.0,351.0 372.0,349.5 376.0,346.0 379.0,348.5 381.0,343.0 383.0,349.5 385.0,344.0 387.0,349.0 388.5,347.0 391.5,351.0 394.0,348.5 396.0,342.0 399.0,338.5 402.5,335.0 405.5,337.5 409.0,336.5 412.0,338.5 416.0,337.0 418.5,336.0 422.0,339.0 425.0,341.5 428.0,344.0 430.0,343.0 432.0,345.5 434.5,345.0 436.0,347.0 439.0,347.5 442.0,347.5 445.0,346.0 448.0,347.0 451.0,349.0 454.0,350.0 457.0,348.0 460.0,347.0 462.5,349.0" fill="none" stroke="#1e1e1e" stroke-width="1.15" stroke-linejoin="round"/>
<polyline points="178.0,351.5 182.0,351.0 185.0,351.5 187.0,351.0 189.0,352.0 191.0,350.0 193.0,348.5 195.0,350.0 197.0,351.0 199.0,352.5 201.0,353.0 203.0,351.5 205.0,351.0 207.0,351.5 209.0,351.0 211.0,350.0 213.0,349.0 215.0,348.5 218.0,349.5 221.0,350.0 224.0,349.5 226.0,349.0 228.0,348.0 230.0,347.5 233.0,349.0 236.0,350.5 240.0,347.5 244.0,345.0 249.0,343.0 252.0,343.5 255.0,343.5 258.0,345.5 262.0,348.0 266.0,349.0 270.0,350.0 273.0,349.0 276.0,347.0 279.0,344.5 282.0,346.0 285.0,347.5 287.0,349.5 290.0,351.5 293.0,352.5 296.0,351.5 300.0,352.5 304.0,353.5 308.0,353.0 311.0,352.0 314.5,351.0 318.0,353.0 322.0,354.5 326.0,354.5 330.0,354.0 334.0,354.5 338.0,354.5 342.0,355.0 348.0,355.5 352.0,355.0 356.0,355.5 359.0,354.0 365.0,351.0 369.0,354.0 373.0,355.5 378.0,355.0 386.0,355.5 391.0,355.5 394.0,354.0 397.0,348.0 400.0,344.0 404.0,342.0 408.0,343.0 412.0,343.5 416.0,342.5 420.0,344.0 425.0,346.5 428.0,349.5 432.0,351.0 437.0,352.5 440.0,353.5 443.0,353.0 447.0,352.5 451.0,354.0 454.0,355.0 458.0,354.5 462.5,353.5" fill="none" stroke="#1e1e1e" stroke-width="1.15" stroke-linejoin="round"/>
<polyline points="178.0,356.5 182.0,357.0 185.0,355.5 187.0,357.0 189.0,356.0 192.0,355.0 194.0,356.5 196.0,355.5 198.0,357.0 200.0,357.0 203.0,355.0 205.0,356.0 207.0,354.5 210.0,353.5 213.0,355.0 216.0,354.0 219.0,354.5 222.0,355.5 223.5,357.0 225.0,355.5 227.0,354.0 230.0,352.5 232.0,354.0 234.0,353.0 236.0,354.5 239.0,351.5 242.0,351.0 246.0,350.0 250.0,350.0 252.5,349.0 254.5,347.5 256.0,349.0 258.0,350.0 260.0,352.5 264.0,354.0 269.0,355.5 272.5,356.5 275.0,353.5 278.0,352.0 282.0,352.5 285.0,351.5 288.0,354.0 290.5,356.5 293.5,357.0 296.0,357.0 300.0,358.0 304.0,357.5 307.0,358.5 311.0,360.5 314.0,358.0 317.0,357.0 320.0,359.0 324.0,360.0 330.0,358.0 334.0,360.0 338.0,359.0 342.0,362.0 346.0,359.0 352.0,358.5 356.0,359.0 359.0,361.0 362.0,361.5 365.0,357.5 368.0,358.5 371.0,359.0 375.0,359.5 378.0,360.0 382.0,359.5 386.0,360.0 390.0,359.5 394.0,357.5 396.0,359.0 398.0,355.0 402.0,348.5 405.0,347.5 410.0,351.0 414.0,348.0 416.0,349.0 420.0,349.5 423.0,351.0 426.0,354.0 428.0,357.0 432.0,358.0 437.0,358.0 440.0,357.0 443.0,356.5 447.0,357.0 451.0,358.0 454.0,360.0 457.0,361.0 460.0,359.0 462.5,357.0" fill="none" stroke="#1e1e1e" stroke-width="1.15" stroke-linejoin="round"/>
<rect x="285.49" y="439.13" width="11.877" height="11.77" fill="#8e8e8e" stroke="#2a2a2a" stroke-width="0.8"/>
<rect x="287" y="449" width="3" height="2" fill="#4a4a4a" shape-rendering="crispEdges"/>
<rect x="288" y="450" width="1" height="1" fill="#f6f6f6" shape-rendering="crispEdges"/>
<rect x="289" y="446" width="3" height="5" fill="#4a4a4a" shape-rendering="crispEdges"/>
<rect x="290" y="447" width="1" height="4" fill="#f6f6f6" shape-rendering="crispEdges"/>
<rect x="291" y="447" width="3" height="4" fill="#4a4a4a" shape-rendering="crispEdges"/>
<rect x="292" y="448" width="1" height="3" fill="#f6f6f6" shape-rendering="crispEdges"/>
<rect x="293" y="446" width="3" height="5" fill="#4a4a4a" shape-rendering="crispEdges"/>
<rect x="294" y="447" width="1" height="4" fill="#f6f6f6" shape-rendering="crispEdges"/>
<rect x="295" y="449" width="3" height="2" fill="#4a4a4a" shape-rendering="crispEdges"/>
<rect x="296" y="450" width="1" height="1" fill="#f6f6f6" shape-rendering="crispEdges"/>
<text x="291.63149999999996" y="437.828" font-size="7.8" text-anchor="middle" fill="#1a1a1a" stroke="#1a1a1a" stroke-width="0.28" font-weight="normal" font-style="normal" textLength="8.6" lengthAdjust="spacingAndGlyphs">27</text>
<rect x="297.37" y="425.18" width="11.877" height="25.72" fill="#8e8e8e" stroke="#2a2a2a" stroke-width="0.8"/>
<rect x="297" y="449" width="3" height="2" fill="#4a4a4a" shape-rendering="crispEdges"/>
<rect x="298" y="450" width="1" height="1" fill="#f6f6f6" shape-rendering="crispEdges"/>
<rect x="299" y="446" width="3" height="5" fill="#4a4a4a" shape-rendering="crispEdges"/>
<rect x="300" y="447" width="1" height="4" fill="#f6f6f6" shape-rendering="crispEdges"/>
<rect x="301" y="447" width="3" height="4" fill="#4a4a4a" shape-rendering="crispEdges"/>
<rect x="302" y="448" width="1" height="3" fill="#f6f6f6" shape-rendering="crispEdges"/>
<rect x="303" y="447" width="3" height="4" fill="#4a4a4a" shape-rendering="crispEdges"/>
<rect x="304" y="448" width="1" height="3" fill="#f6f6f6" shape-rendering="crispEdges"/>
<rect x="305" y="449" width="3" height="2" fill="#4a4a4a" shape-rendering="crispEdges"/>
<rect x="306" y="450" width="1" height="1" fill="#f6f6f6" shape-rendering="crispEdges"/>
<rect x="307" y="444" width="3" height="7" fill="#4a4a4a" shape-rendering="crispEdges"/>
<rect x="308" y="445" width="1" height="6" fill="#f6f6f6" shape-rendering="crispEdges"/>
<text x="303.50849999999997" y="423.876" font-size="7.8" text-anchor="middle" fill="#1a1a1a" stroke="#1a1a1a" stroke-width="0.28" font-weight="normal" font-style="normal" textLength="8.6" lengthAdjust="spacingAndGlyphs">59</text>
<rect x="309.25" y="410.79" width="11.877" height="40.11" fill="#8e8e8e" stroke="#2a2a2a" stroke-width="0.8"/>
<rect x="309" y="444" width="3" height="7" fill="#4a4a4a" shape-rendering="crispEdges"/>
<rect x="310" y="445" width="1" height="6" fill="#f6f6f6" shape-rendering="crispEdges"/>
<rect x="311" y="444" width="3" height="7" fill="#4a4a4a" shape-rendering="crispEdges"/>
<rect x="312" y="445" width="1" height="6" fill="#f6f6f6" shape-rendering="crispEdges"/>
<rect x="313" y="446" width="3" height="5" fill="#4a4a4a" shape-rendering="crispEdges"/>
<rect x="314" y="447" width="1" height="4" fill="#f6f6f6" shape-rendering="crispEdges"/>
<rect x="315" y="446" width="3" height="5" fill="#4a4a4a" shape-rendering="crispEdges"/>
<rect x="316" y="447" width="1" height="4" fill="#f6f6f6" shape-rendering="crispEdges"/>
<rect x="317" y="446" width="3" height="5" fill="#4a4a4a" shape-rendering="crispEdges"/>
<rect x="318" y="447" width="1" height="4" fill="#f6f6f6" shape-rendering="crispEdges"/>
<rect x="319" y="440" width="3" height="11" fill="#4a4a4a" shape-rendering="crispEdges"/>
<rect x="320" y="441" width="1" height="10" fill="#f6f6f6" shape-rendering="crispEdges"/>
<text x="315.3855" y="409.48799999999994" font-size="7.8" text-anchor="middle" fill="#1a1a1a" stroke="#1a1a1a" stroke-width="0.28" font-weight="normal" font-style="normal" textLength="8.6" lengthAdjust="spacingAndGlyphs">92</text>
<rect x="321.12" y="409.48" width="11.877" height="41.42" fill="#8e8e8e" stroke="#2a2a2a" stroke-width="0.8"/>
<rect x="321" y="441" width="3" height="10" fill="#4a4a4a" shape-rendering="crispEdges"/>
<rect x="322" y="442" width="1" height="9" fill="#f6f6f6" shape-rendering="crispEdges"/>
<rect x="323" y="442" width="3" height="9" fill="#4a4a4a" shape-rendering="crispEdges"/>
<rect x="324" y="443" width="1" height="8" fill="#f6f6f6" shape-rendering="crispEdges"/>
<rect x="325" y="442" width="3" height="9" fill="#4a4a4a" shape-rendering="crispEdges"/>
<rect x="326" y="443" width="1" height="8" fill="#f6f6f6" shape-rendering="crispEdges"/>
<rect x="327" y="442" width="3" height="9" fill="#4a4a4a" shape-rendering="crispEdges"/>
<rect x="328" y="443" width="1" height="8" fill="#f6f6f6" shape-rendering="crispEdges"/>
<rect x="329" y="443" width="3" height="8" fill="#4a4a4a" shape-rendering="crispEdges"/>
<rect x="330" y="444" width="1" height="7" fill="#f6f6f6" shape-rendering="crispEdges"/>
<rect x="331" y="444" width="3" height="7" fill="#4a4a4a" shape-rendering="crispEdges"/>
<rect x="332" y="445" width="1" height="6" fill="#f6f6f6" shape-rendering="crispEdges"/>
<text x="327.2625" y="408.17999999999995" font-size="7.8" text-anchor="middle" fill="#1a1a1a" stroke="#1a1a1a" stroke-width="0.28" font-weight="normal" font-style="normal" textLength="8.6" lengthAdjust="spacingAndGlyphs">95</text>
<rect x="333.00" y="424.30" width="11.877" height="26.60" fill="#8e8e8e" stroke="#2a2a2a" stroke-width="0.8"/>
<rect x="333" y="443" width="3" height="8" fill="#4a4a4a" shape-rendering="crispEdges"/>
<rect x="334" y="444" width="1" height="7" fill="#f6f6f6" shape-rendering="crispEdges"/>
<rect x="335" y="442" width="3" height="9" fill="#4a4a4a" shape-rendering="crispEdges"/>
<rect x="336" y="443" width="1" height="8" fill="#f6f6f6" shape-rendering="crispEdges"/>
<rect x="337" y="446" width="3" height="5" fill="#4a4a4a" shape-rendering="crispEdges"/>
<rect x="338" y="447" width="1" height="4" fill="#f6f6f6" shape-rendering="crispEdges"/>
<rect x="339" y="447" width="3" height="4" fill="#4a4a4a" shape-rendering="crispEdges"/>
<rect x="340" y="448" width="1" height="3" fill="#f6f6f6" shape-rendering="crispEdges"/>
<rect x="341" y="447" width="3" height="4" fill="#4a4a4a" shape-rendering="crispEdges"/>
<rect x="342" y="448" width="1" height="3" fill="#f6f6f6" shape-rendering="crispEdges"/>
<rect x="343" y="446" width="3" height="5" fill="#4a4a4a" shape-rendering="crispEdges"/>
<rect x="344" y="447" width="1" height="4" fill="#f6f6f6" shape-rendering="crispEdges"/>
<text x="339.13949999999994" y="423.00399999999996" font-size="7.8" text-anchor="middle" fill="#1a1a1a" stroke="#1a1a1a" stroke-width="0.28" font-weight="normal" font-style="normal" textLength="8.6" lengthAdjust="spacingAndGlyphs">61</text>
<rect x="344.88" y="429.54" width="11.877" height="21.36" fill="#8e8e8e" stroke="#2a2a2a" stroke-width="0.8"/>
<rect x="344" y="444" width="3" height="7" fill="#4a4a4a" shape-rendering="crispEdges"/>
<rect x="345" y="445" width="1" height="6" fill="#f6f6f6" shape-rendering="crispEdges"/>
<rect x="346" y="444" width="3" height="7" fill="#4a4a4a" shape-rendering="crispEdges"/>
<rect x="347" y="445" width="1" height="6" fill="#f6f6f6" shape-rendering="crispEdges"/>
<rect x="348" y="444" width="3" height="7" fill="#4a4a4a" shape-rendering="crispEdges"/>
<rect x="349" y="445" width="1" height="6" fill="#f6f6f6" shape-rendering="crispEdges"/>
<rect x="350" y="448" width="3" height="3" fill="#4a4a4a" shape-rendering="crispEdges"/>
<rect x="351" y="449" width="1" height="2" fill="#f6f6f6" shape-rendering="crispEdges"/>
<rect x="352" y="448" width="3" height="3" fill="#4a4a4a" shape-rendering="crispEdges"/>
<rect x="353" y="449" width="1" height="2" fill="#f6f6f6" shape-rendering="crispEdges"/>
<rect x="354" y="448" width="3" height="3" fill="#4a4a4a" shape-rendering="crispEdges"/>
<rect x="355" y="449" width="1" height="2" fill="#f6f6f6" shape-rendering="crispEdges"/>
<text x="351.0165" y="428.236" font-size="7.8" text-anchor="middle" fill="#1a1a1a" stroke="#1a1a1a" stroke-width="0.28" font-weight="normal" font-style="normal" textLength="8.6" lengthAdjust="spacingAndGlyphs">49</text>
<rect x="356.75" y="405.99" width="11.877" height="44.91" fill="#8e8e8e" stroke="#2a2a2a" stroke-width="0.8"/>
<rect x="356" y="444" width="3" height="7" fill="#4a4a4a" shape-rendering="crispEdges"/>
<rect x="357" y="445" width="1" height="6" fill="#f6f6f6" shape-rendering="crispEdges"/>
<rect x="358" y="445" width="3" height="6" fill="#4a4a4a" shape-rendering="crispEdges"/>
<rect x="359" y="446" width="1" height="5" fill="#f6f6f6" shape-rendering="crispEdges"/>
<rect x="360" y="442" width="3" height="9" fill="#4a4a4a" shape-rendering="crispEdges"/>
<rect x="361" y="443" width="1" height="8" fill="#f6f6f6" shape-rendering="crispEdges"/>
<rect x="362" y="447" width="3" height="4" fill="#4a4a4a" shape-rendering="crispEdges"/>
<rect x="363" y="448" width="1" height="3" fill="#f6f6f6" shape-rendering="crispEdges"/>
<rect x="364" y="445" width="3" height="6" fill="#4a4a4a" shape-rendering="crispEdges"/>
<rect x="365" y="446" width="1" height="5" fill="#f6f6f6" shape-rendering="crispEdges"/>
<rect x="366" y="441" width="3" height="10" fill="#4a4a4a" shape-rendering="crispEdges"/>
<rect x="367" y="442" width="1" height="9" fill="#f6f6f6" shape-rendering="crispEdges"/>
<text x="362.89349999999996" y="404.69199999999995" font-size="7.8" text-anchor="middle" fill="#1a1a1a" stroke="#1a1a1a" stroke-width="0.28" font-weight="normal" font-style="normal" textLength="12.899999999999999" lengthAdjust="spacingAndGlyphs">103</text>
<rect x="368.63" y="383.32" width="11.877" height="67.58" fill="#8e8e8e" stroke="#2a2a2a" stroke-width="0.8"/>
<rect x="368" y="438" width="3" height="13" fill="#4a4a4a" shape-rendering="crispEdges"/>
<rect x="369" y="439" width="1" height="12" fill="#f6f6f6" shape-rendering="crispEdges"/>
<rect x="370" y="442" width="3" height="9" fill="#4a4a4a" shape-rendering="crispEdges"/>
<rect x="371" y="443" width="1" height="8" fill="#f6f6f6" shape-rendering="crispEdges"/>
<rect x="372" y="437" width="3" height="14" fill="#4a4a4a" shape-rendering="crispEdges"/>
<rect x="373" y="438" width="1" height="13" fill="#f6f6f6" shape-rendering="crispEdges"/>
<rect x="374" y="441" width="3" height="10" fill="#4a4a4a" shape-rendering="crispEdges"/>
<rect x="375" y="442" width="1" height="9" fill="#f6f6f6" shape-rendering="crispEdges"/>
<rect x="376" y="434" width="3" height="17" fill="#4a4a4a" shape-rendering="crispEdges"/>
<rect x="377" y="435" width="1" height="16" fill="#f6f6f6" shape-rendering="crispEdges"/>
<rect x="378" y="442" width="3" height="9" fill="#4a4a4a" shape-rendering="crispEdges"/>
<rect x="379" y="443" width="1" height="8" fill="#f6f6f6" shape-rendering="crispEdges"/>
<text x="374.77049999999997" y="382.02" font-size="7.8" text-anchor="middle" fill="#1a1a1a" stroke="#1a1a1a" stroke-width="0.28" font-weight="normal" font-style="normal" textLength="12.899999999999999" lengthAdjust="spacingAndGlyphs">155</text>
<rect x="380.51" y="418.64" width="11.877" height="32.26" fill="#8e8e8e" stroke="#2a2a2a" stroke-width="0.8"/>
<rect x="380" y="440" width="3" height="11" fill="#4a4a4a" shape-rendering="crispEdges"/>
<rect x="381" y="441" width="1" height="10" fill="#f6f6f6" shape-rendering="crispEdges"/>
<rect x="382" y="445" width="3" height="6" fill="#4a4a4a" shape-rendering="crispEdges"/>
<rect x="383" y="446" width="1" height="5" fill="#f6f6f6" shape-rendering="crispEdges"/>
<rect x="384" y="447" width="3" height="4" fill="#4a4a4a" shape-rendering="crispEdges"/>
<rect x="385" y="448" width="1" height="3" fill="#f6f6f6" shape-rendering="crispEdges"/>
<rect x="386" y="448" width="3" height="3" fill="#4a4a4a" shape-rendering="crispEdges"/>
<rect x="387" y="449" width="1" height="2" fill="#f6f6f6" shape-rendering="crispEdges"/>
<rect x="388" y="444" width="3" height="7" fill="#4a4a4a" shape-rendering="crispEdges"/>
<rect x="389" y="445" width="1" height="6" fill="#f6f6f6" shape-rendering="crispEdges"/>
<rect x="390" y="446" width="3" height="5" fill="#4a4a4a" shape-rendering="crispEdges"/>
<rect x="391" y="447" width="1" height="4" fill="#f6f6f6" shape-rendering="crispEdges"/>
<text x="386.6475" y="417.33599999999996" font-size="7.8" text-anchor="middle" fill="#1a1a1a" stroke="#1a1a1a" stroke-width="0.28" font-weight="normal" font-style="normal" textLength="8.6" lengthAdjust="spacingAndGlyphs">74</text>
<rect x="392.39" y="436.95" width="11.877" height="13.95" fill="#8e8e8e" stroke="#2a2a2a" stroke-width="0.8"/>
<rect x="392" y="444" width="3" height="7" fill="#4a4a4a" shape-rendering="crispEdges"/>
<rect x="393" y="445" width="1" height="6" fill="#f6f6f6" shape-rendering="crispEdges"/>
<rect x="394" y="445" width="3" height="6" fill="#4a4a4a" shape-rendering="crispEdges"/>
<rect x="395" y="446" width="1" height="5" fill="#f6f6f6" shape-rendering="crispEdges"/>
<rect x="396" y="446" width="3" height="5" fill="#4a4a4a" shape-rendering="crispEdges"/>
<rect x="397" y="447" width="1" height="4" fill="#f6f6f6" shape-rendering="crispEdges"/>
<rect x="398" y="448" width="3" height="3" fill="#4a4a4a" shape-rendering="crispEdges"/>
<rect x="399" y="449" width="1" height="2" fill="#f6f6f6" shape-rendering="crispEdges"/>
<rect x="400" y="449" width="3" height="2" fill="#4a4a4a" shape-rendering="crispEdges"/>
<rect x="401" y="450" width="1" height="1" fill="#f6f6f6" shape-rendering="crispEdges"/>
<rect x="402" y="449" width="3" height="2" fill="#4a4a4a" shape-rendering="crispEdges"/>
<rect x="403" y="450" width="1" height="1" fill="#f6f6f6" shape-rendering="crispEdges"/>
<text x="398.52449999999993" y="435.64799999999997" font-size="7.8" text-anchor="middle" fill="#1a1a1a" stroke="#1a1a1a" stroke-width="0.28" font-weight="normal" font-style="normal" textLength="8.6" lengthAdjust="spacingAndGlyphs">32</text>
<rect x="404.26" y="447.41" width="11.877" height="3.49" fill="#8e8e8e" stroke="#2a2a2a" stroke-width="0.8"/>
<rect x="404" y="448" width="3" height="3" fill="#4a4a4a" shape-rendering="crispEdges"/>
<rect x="405" y="449" width="1" height="2" fill="#f6f6f6" shape-rendering="crispEdges"/>
<rect x="406" y="449" width="3" height="2" fill="#4a4a4a" shape-rendering="crispEdges"/>
<rect x="407" y="450" width="1" height="1" fill="#f6f6f6" shape-rendering="crispEdges"/>
<rect x="408" y="448" width="3" height="3" fill="#4a4a4a" shape-rendering="crispEdges"/>
<rect x="409" y="449" width="1" height="2" fill="#f6f6f6" shape-rendering="crispEdges"/>
<rect x="410" y="449" width="3" height="2" fill="#4a4a4a" shape-rendering="crispEdges"/>
<rect x="411" y="450" width="1" height="1" fill="#f6f6f6" shape-rendering="crispEdges"/>
<rect x="412" y="448" width="3" height="3" fill="#4a4a4a" shape-rendering="crispEdges"/>
<rect x="413" y="449" width="1" height="2" fill="#f6f6f6" shape-rendering="crispEdges"/>
<rect x="414" y="449" width="3" height="2" fill="#4a4a4a" shape-rendering="crispEdges"/>
<rect x="415" y="450" width="1" height="1" fill="#f6f6f6" shape-rendering="crispEdges"/>
<text x="410.4015" y="446.11199999999997" font-size="7.8" text-anchor="middle" fill="#1a1a1a" stroke="#1a1a1a" stroke-width="0.28" font-weight="normal" font-style="normal" textLength="4.3" lengthAdjust="spacingAndGlyphs">8</text>
<rect x="416.14" y="445.67" width="11.877" height="5.23" fill="#8e8e8e" stroke="#2a2a2a" stroke-width="0.8"/>
<rect x="416" y="448" width="3" height="3" fill="#4a4a4a" shape-rendering="crispEdges"/>
<rect x="417" y="449" width="1" height="2" fill="#f6f6f6" shape-rendering="crispEdges"/>
<rect x="418" y="449" width="3" height="2" fill="#4a4a4a" shape-rendering="crispEdges"/>
<rect x="419" y="450" width="1" height="1" fill="#f6f6f6" shape-rendering="crispEdges"/>
<rect x="420" y="448" width="3" height="3" fill="#4a4a4a" shape-rendering="crispEdges"/>
<rect x="421" y="449" width="1" height="2" fill="#f6f6f6" shape-rendering="crispEdges"/>
<rect x="422" y="448" width="3" height="3" fill="#4a4a4a" shape-rendering="crispEdges"/>
<rect x="423" y="449" width="1" height="2" fill="#f6f6f6" shape-rendering="crispEdges"/>
<rect x="424" y="449" width="3" height="2" fill="#4a4a4a" shape-rendering="crispEdges"/>
<rect x="425" y="450" width="1" height="1" fill="#f6f6f6" shape-rendering="crispEdges"/>
<rect x="426" y="448" width="3" height="3" fill="#4a4a4a" shape-rendering="crispEdges"/>
<rect x="427" y="449" width="1" height="2" fill="#f6f6f6" shape-rendering="crispEdges"/>
<text x="422.27849999999995" y="444.36799999999994" font-size="7.8" text-anchor="middle" fill="#1a1a1a" stroke="#1a1a1a" stroke-width="0.28" font-weight="normal" font-style="normal" textLength="8.6" lengthAdjust="spacingAndGlyphs">12</text>
<text x="434.15549999999996" y="449.164" font-size="7.8" text-anchor="middle" fill="#1a1a1a" stroke="#1a1a1a" stroke-width="0.28" font-weight="normal" font-style="normal" textLength="4.3" lengthAdjust="spacingAndGlyphs">1</text>
<text x="446.03249999999997" y="449.164" font-size="7.8" text-anchor="middle" fill="#1a1a1a" stroke="#1a1a1a" stroke-width="0.28" font-weight="normal" font-style="normal" textLength="4.3" lengthAdjust="spacingAndGlyphs">1</text>
<line x1="179" y1="451.4" x2="463" y2="451.4" stroke="#111" stroke-width="1.6"/>
<text x="179.0" y="458.7" font-size="8.3" text-anchor="middle" fill="#222" stroke="#222" stroke-width="0.28" font-weight="normal" font-style="normal" textLength="3.7" lengthAdjust="spacingAndGlyphs">0</text>
<text x="190.9" y="458.7" font-size="8.3" text-anchor="middle" fill="#222" stroke="#222" stroke-width="0.28" font-weight="normal" font-style="normal" textLength="7.2" lengthAdjust="spacingAndGlyphs">14</text>
<text x="202.8" y="458.7" font-size="8.3" text-anchor="middle" fill="#222" stroke="#222" stroke-width="0.28" font-weight="normal" font-style="normal" textLength="7.2" lengthAdjust="spacingAndGlyphs">15</text>
<text x="214.7" y="458.7" font-size="8.3" text-anchor="middle" fill="#222" stroke="#222" stroke-width="0.28" font-weight="normal" font-style="normal" textLength="7.2" lengthAdjust="spacingAndGlyphs">16</text>
<text x="226.6" y="458.7" font-size="8.3" text-anchor="middle" fill="#222" stroke="#222" stroke-width="0.28" font-weight="normal" font-style="normal" textLength="7.2" lengthAdjust="spacingAndGlyphs">17</text>
<text x="238.5" y="458.7" font-size="8.3" text-anchor="middle" fill="#222" stroke="#222" stroke-width="0.28" font-weight="normal" font-style="normal" textLength="7.2" lengthAdjust="spacingAndGlyphs">18</text>
<text x="250.4" y="458.7" font-size="8.3" text-anchor="middle" fill="#222" stroke="#222" stroke-width="0.28" font-weight="normal" font-style="normal" textLength="7.2" lengthAdjust="spacingAndGlyphs">19</text>
<text x="262.3" y="458.7" font-size="8.3" text-anchor="middle" fill="#222" stroke="#222" stroke-width="0.28" font-weight="normal" font-style="normal" textLength="7.2" lengthAdjust="spacingAndGlyphs">20</text>
<text x="274.2" y="458.7" font-size="8.3" text-anchor="middle" fill="#222" stroke="#222" stroke-width="0.28" font-weight="normal" font-style="normal" textLength="7.2" lengthAdjust="spacingAndGlyphs">21</text>
<text x="286.1" y="458.7" font-size="8.3" text-anchor="middle" fill="#222" stroke="#222" stroke-width="0.28" font-weight="normal" font-style="normal" textLength="7.2" lengthAdjust="spacingAndGlyphs">22</text>
<text x="298.0" y="458.7" font-size="8.3" text-anchor="middle" fill="#222" stroke="#222" stroke-width="0.28" font-weight="normal" font-style="normal" textLength="7.2" lengthAdjust="spacingAndGlyphs">23</text>
<text x="309.9" y="458.7" font-size="8.3" text-anchor="middle" fill="#222" stroke="#222" stroke-width="0.28" font-weight="normal" font-style="normal" textLength="3.7" lengthAdjust="spacingAndGlyphs">0</text>
<text x="321.8" y="458.7" font-size="8.3" text-anchor="middle" fill="#222" stroke="#222" stroke-width="0.28" font-weight="normal" font-style="normal" textLength="3.7" lengthAdjust="spacingAndGlyphs">1</text>
<text x="333.70000000000005" y="458.7" font-size="8.3" text-anchor="middle" fill="#222" stroke="#222" stroke-width="0.28" font-weight="normal" font-style="normal" textLength="3.7" lengthAdjust="spacingAndGlyphs">2</text>
<text x="345.6" y="458.7" font-size="8.3" text-anchor="middle" fill="#222" stroke="#222" stroke-width="0.28" font-weight="normal" font-style="normal" textLength="3.7" lengthAdjust="spacingAndGlyphs">3</text>
<text x="357.5" y="458.7" font-size="8.3" text-anchor="middle" fill="#222" stroke="#222" stroke-width="0.28" font-weight="normal" font-style="normal" textLength="3.7" lengthAdjust="spacingAndGlyphs">4</text>
<text x="369.4" y="458.7" font-size="8.3" text-anchor="middle" fill="#222" stroke="#222" stroke-width="0.28" font-weight="normal" font-style="normal" textLength="3.7" lengthAdjust="spacingAndGlyphs">5</text>
<text x="381.3" y="458.7" font-size="8.3" text-anchor="middle" fill="#222" stroke="#222" stroke-width="0.28" font-weight="normal" font-style="normal" textLength="3.7" lengthAdjust="spacingAndGlyphs">6</text>
<text x="393.20000000000005" y="458.7" font-size="8.3" text-anchor="middle" fill="#222" stroke="#222" stroke-width="0.28" font-weight="normal" font-style="normal" textLength="3.7" lengthAdjust="spacingAndGlyphs">7</text>
<text x="405.1" y="458.7" font-size="8.3" text-anchor="middle" fill="#222" stroke="#222" stroke-width="0.28" font-weight="normal" font-style="normal" textLength="3.7" lengthAdjust="spacingAndGlyphs">8</text>
<text x="417.0" y="458.7" font-size="8.3" text-anchor="middle" fill="#222" stroke="#222" stroke-width="0.28" font-weight="normal" font-style="normal" textLength="3.7" lengthAdjust="spacingAndGlyphs">9</text>
<text x="428.9" y="458.7" font-size="8.3" text-anchor="middle" fill="#222" stroke="#222" stroke-width="0.28" font-weight="normal" font-style="normal" textLength="7.2" lengthAdjust="spacingAndGlyphs">10</text>
<text x="440.8" y="458.7" font-size="8.3" text-anchor="middle" fill="#222" stroke="#222" stroke-width="0.28" font-weight="normal" font-style="normal" textLength="7.2" lengthAdjust="spacingAndGlyphs">11</text>
<text x="453.9" y="458.7" font-size="8.3" text-anchor="middle" fill="#222" stroke="#222" stroke-width="0.28" font-weight="normal" font-style="normal" textLength="7.2" lengthAdjust="spacingAndGlyphs">12</text>
<text x="7.10" y="489.0" style='font-family:"Liberation Serif", serif' font-size="10.2" fill="#141414" stroke="#141414" stroke-width="0.2" font-weight="bold" font-style="italic" textLength="17.30" lengthAdjust="spacingAndGlyphs">Рис.</text>
<text x="27.10" y="489.0" style='font-family:"Liberation Serif", serif' font-size="10.2" fill="#141414" stroke="#141414" stroke-width="0.2" font-weight="bold" font-style="italic" textLength="7.30" lengthAdjust="spacingAndGlyphs">2.</text>
<text x="38.10" y="489.0" style='font-family:"Liberation Serif", serif' font-size="10.2" fill="#141414" stroke="#141414" stroke-width="0.2" font-weight="bold" font-style="normal" textLength="31.80" lengthAdjust="spacingAndGlyphs">Пример</text>
<text x="72.60" y="489.0" style='font-family:"Liberation Serif", serif' font-size="10.2" fill="#141414" stroke="#141414" stroke-width="0.2" font-weight="bold" font-style="normal" textLength="77.80" lengthAdjust="spacingAndGlyphs">комбинированного</text>
<text x="153.10" y="489.0" style='font-family:"Liberation Serif", serif' font-size="10.2" fill="#141414" stroke="#141414" stroke-width="0.2" font-weight="bold" font-style="normal" textLength="80.80" lengthAdjust="spacingAndGlyphs">мониторирования.</text>
<text x="6.60" y="500.3" style='font-family:"Liberation Serif", serif' font-size="10.2" fill="#141414" stroke="#141414" stroke-width="0.2" font-weight="normal" font-style="normal" textLength="6.30" lengthAdjust="spacingAndGlyphs">В</text>
<text x="17.10" y="500.3" style='font-family:"Liberation Serif", serif' font-size="10.2" fill="#141414" stroke="#141414" stroke-width="0.2" font-weight="normal" font-style="normal" textLength="33.30" lengthAdjust="spacingAndGlyphs">верхней</text>
<text x="54.10" y="500.3" style='font-family:"Liberation Serif", serif' font-size="10.2" fill="#141414" stroke="#141414" stroke-width="0.2" font-weight="normal" font-style="normal" textLength="23.80" lengthAdjust="spacingAndGlyphs">части</text>
<text x="82.60" y="500.3" style='font-family:"Liberation Serif", serif' font-size="10.2" fill="#141414" stroke="#141414" stroke-width="0.2" font-weight="normal" font-style="normal" textLength="34.30" lengthAdjust="spacingAndGlyphs">рисунка</text>
<text x="121.10" y="500.3" style='font-family:"Liberation Serif", serif' font-size="10.2" fill="#141414" stroke="#141414" stroke-width="0.2" font-weight="normal" font-style="normal" textLength="7.80" lengthAdjust="spacingAndGlyphs">—</text>
<text x="133.60" y="500.3" style='font-family:"Liberation Serif", serif' font-size="10.2" fill="#141414" stroke="#141414" stroke-width="0.2" font-weight="normal" font-style="normal" textLength="28.80" lengthAdjust="spacingAndGlyphs">кривая</text>
<text x="166.10" y="500.3" style='font-family:"Liberation Serif", serif' font-size="10.2" fill="#141414" stroke="#141414" stroke-width="0.2" font-weight="normal" font-style="normal" textLength="43.80" lengthAdjust="spacingAndGlyphs">гликемии,</text>
<text x="214.60" y="500.3" style='font-family:"Liberation Serif", serif' font-size="10.2" fill="#141414" stroke="#141414" stroke-width="0.2" font-weight="normal" font-style="normal" textLength="5.80" lengthAdjust="spacingAndGlyphs">в</text>
<text x="224.10" y="500.3" style='font-family:"Liberation Serif", serif' font-size="10.2" fill="#141414" stroke="#141414" stroke-width="0.2" font-weight="normal" font-style="normal" textLength="31.30" lengthAdjust="spacingAndGlyphs">нижней</text>
<text x="261.60" y="500.3" style='font-family:"Liberation Serif", serif' font-size="10.2" fill="#141414" stroke="#141414" stroke-width="0.2" font-weight="normal" font-style="normal" textLength="22.80" lengthAdjust="spacingAndGlyphs">части</text>
<text x="288.60" y="500.3" style='font-family:"Liberation Serif", serif' font-size="10.2" fill="#141414" stroke="#141414" stroke-width="0.2" font-weight="normal" font-style="normal" textLength="7.80" lengthAdjust="spacingAndGlyphs">—</text>
<text x="301.60" y="500.3" style='font-family:"Liberation Serif", serif' font-size="10.2" fill="#141414" stroke="#141414" stroke-width="0.2" font-weight="normal" font-style="normal" textLength="52.80" lengthAdjust="spacingAndGlyphs">гистограмма</text>
<text x="358.60" y="500.3" style='font-family:"Liberation Serif", serif' font-size="10.2" fill="#141414" stroke="#141414" stroke-width="0.2" font-weight="normal" font-style="normal" textLength="59.80" lengthAdjust="spacingAndGlyphs">желудочковых</text>
<text x="422.60" y="500.3" style='font-family:"Liberation Serif", serif' font-size="10.2" fill="#141414" stroke="#141414" stroke-width="0.2" font-weight="normal" font-style="normal" textLength="76.55" lengthAdjust="spacingAndGlyphs">преждевременных</text>
<text x="504.80" y="500.3" style='font-family:"Liberation Serif", serif' font-size="10.2" fill="#141414" stroke="#141414" stroke-width="0.2" font-weight="normal" font-style="normal" textLength="53.30" lengthAdjust="spacingAndGlyphs">комплексов.</text>
<text x="6.60" y="510.8" style='font-family:"Liberation Serif", serif' font-size="10.2" fill="#141414" stroke="#141414" stroke-width="0.2" font-weight="normal" font-style="normal" textLength="40.30" lengthAdjust="spacingAndGlyphs">Развертка</text>
<text x="49.80" y="510.8" style='font-family:"Liberation Serif", serif' font-size="10.2" fill="#141414" stroke="#141414" stroke-width="0.2" font-weight="normal" font-style="normal" textLength="22.60" lengthAdjust="spacingAndGlyphs">обоих</text>
<text x="77.10" y="510.8" style='font-family:"Liberation Serif", serif' font-size="10.2" fill="#141414" stroke="#141414" stroke-width="0.2" font-weight="normal" font-style="normal" textLength="40.80" lengthAdjust="spacingAndGlyphs">графиков</text>
<text x="120.10" y="510.8" style='font-family:"Liberation Serif", serif' font-size="10.2" fill="#141414" stroke="#141414" stroke-width="0.2" font-weight="normal" font-style="normal" textLength="11.30" lengthAdjust="spacingAndGlyphs">во</text>
<text x="133.10" y="510.8" style='font-family:"Liberation Serif", serif' font-size="10.2" fill="#141414" stroke="#141414" stroke-width="0.2" font-weight="normal" font-style="normal" textLength="34.80" lengthAdjust="spacingAndGlyphs">времени</text>
<text x="170.60" y="510.8" style='font-family:"Liberation Serif", serif' font-size="10.2" fill="#141414" stroke="#141414" stroke-width="0.2" font-weight="normal" font-style="normal" textLength="42.30" lengthAdjust="spacingAndGlyphs">совпадает.</text>
</svg>
</body></html>
